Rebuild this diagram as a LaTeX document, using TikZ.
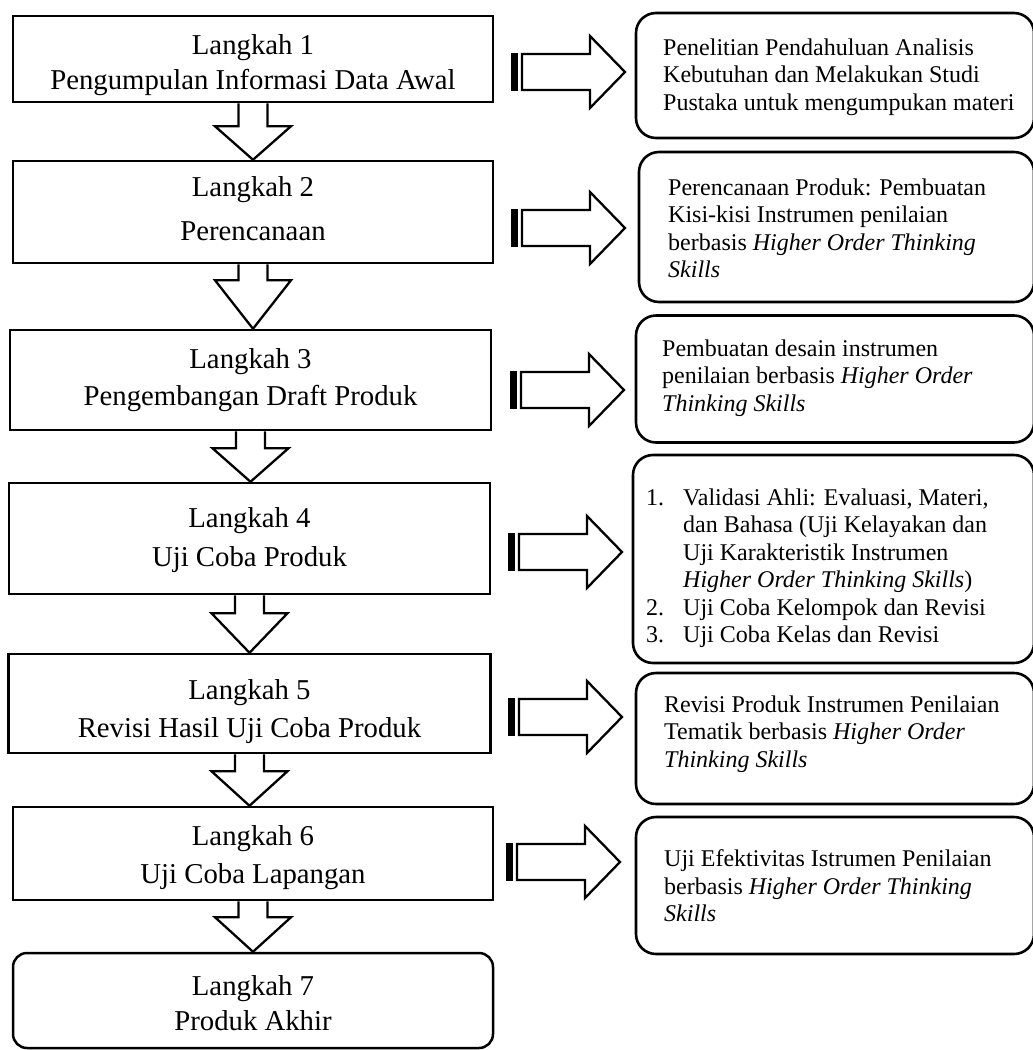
\documentclass[tikz,border=0pt]{standalone}
\usepackage{fontspec}
\setmainfont{Liberation Serif}
\usetikzlibrary{calc}
\tikzset{
  leftbox/.style={draw, line width=2.5pt, minimum width=480pt, inner sep=0pt},
  ltext/.style={font=\fontsize{28.75pt}{35pt}\selectfont, align=center, inner sep=0pt, anchor=north},
  rbox/.style={draw, line width=2.6pt, rounded corners=20pt, inner sep=0pt, minimum width=398pt},
  rtext/.style={font=\fontsize{24pt}{27.5pt}\selectfont, align=left, inner sep=0pt, anchor=north west},
  darrow/.style={draw, line width=2.3pt, fill=white, line join=miter},
  rarrow/.style={draw, line width=2.3pt, fill=white, line join=miter},
}
\newcommand\mystripedarrow[1]{%
  \fill ($(#1)+(0,-19)$) rectangle ($(#1)+(6.5,19)$);
  \draw[rarrow] ($(#1)+(11,-18)$) -- ($(#1)+(79,-18)$) -- ($(#1)+(79,-36)$) -- ($(#1)+(114,0)$) -- ($(#1)+(79,36)$) -- ($(#1)+(79,18)$) -- ($(#1)+(11,18)$) -- cycle;
}
\newcommand\mydownarrow[3]{% from node, to node, shaft length
  \draw[darrow] ($(#1.south)+(-14.5,0)$) -- ++(0,#3) -- ++(-23.5,0) -- (#1.south |- #2.north) -- ($(#1.south)+(38,#3)$) -- ++(-23.5,0) -- ($(#1.south)+(14.5,0)$);
}
\begin{document}
\begin{tikzpicture}[x=1pt,y=-1pt]
\fill[white] (0,0) rectangle (1033,1050);
\useasboundingbox (0,0) rectangle (1033,1050);

% left column boxes
\node[leftbox, minimum height=86pt] (b1) at (253,59) {};
\node[leftbox, minimum height=102pt] (b2) at (253,212) {};
\node[leftbox, minimum height=100pt, minimum width=481pt] (b3) at (250.5,380) {};
\node[leftbox, minimum height=111pt, minimum width=481pt] (b4) at (249.5,538.5) {};
\node[leftbox, minimum height=99pt, minimum width=482pt] (b5) at (249.5,703.5) {};
\node[leftbox, minimum height=93pt] (b6) at (253,853.5) {};
\node[leftbox, minimum height=95pt, rounded corners=14pt] (b7) at (253,1000.5) {};

% left texts
\node[ltext] (l1) at (253,34.7) {Langkah 1\\Pengumpulan Informasi Data Awal};
\node[ltext] (l2) at (253,176.4) {Langkah 2\\[9pt]Perencanaan};
\node[ltext] (l3) at (250.5,348.4) {Langkah 3\\[2pt]Pengembangan Draft Produk};
\node[ltext] (l4) at (249.5,507.4) {Langkah 4\\[4pt]Uji Coba Produk};
\node[ltext] (l5) at (249.5,679.4) {Langkah 5\\[3pt]Revisi Hasil Uji Coba Produk};
\node[ltext] (l6) at (253,825.4) {Langkah 6\\[3pt]Uji Coba Lapangan};
\node[ltext] (l7) at (253,975.4) {Langkah 7\\Produk Akhir};

% down block arrows
\mydownarrow{b1}{b2}{23}
\mydownarrow{b2}{b3}{16}
\mydownarrow{b3}{b4}{17}
\mydownarrow{b4}{b5}{18}
\mydownarrow{b5}{b6}{17}
\mydownarrow{b6}{b7}{16}

% right boxes
\node[rbox, minimum height=125pt] (r1) at (835,75.5) {};
\node[rbox, minimum height=150pt, minimum width=395pt] (r2) at (836.5,227) {};
\node[rbox, minimum height=127pt] (r3) at (835,379) {};
\node[rbox, minimum height=208pt, minimum width=401pt] (r4) at (833.5,559) {};
\node[rbox, minimum height=131pt] (r5) at (835,738.5) {};
\node[rbox, minimum height=137pt] (r6) at (835,885.5) {};

% right texts
\node[rtext] (t1) at (663,38.6) {Penelitian Pendahuluan Analisis\\Kebutuhan dan Melakukan Studi\\Pustaka untuk mengumpukan materi};
\node[rtext] (t2) at (668,178.6) {Perencanaan Produk: Pembuatan\\Kisi-kisi Instrumen penilaian\\berbasis \textit{Higher Order Thinking}\\\textit{Skills}};
\node[rtext] (t3) at (662,339.6) {Pembuatan desain instrumen\\penilaian berbasis \textit{Higher Order}\\\textit{Thinking Skills}};
\node[rtext] (t4) at (646,488.6) {\makebox[37pt][l]{1.}Validasi Ahli: Evaluasi, Materi,\\\hspace*{37pt}dan Bahasa (Uji Kelayakan dan\\\hspace*{37pt}Uji Karakteristik Instrumen\\\hspace*{37pt}\textit{Higher Order Thinking Skills})\\\makebox[37pt][l]{2.}Uji Coba Kelompok dan Revisi\\\makebox[37pt][l]{3.}Uji Coba Kelas dan Revisi};
\node[rtext] (t5) at (664,695.6) {Revisi Produk Instrumen Penilaian\\Tematik berbasis \textit{Higher Order}\\\textit{Thinking Skills}};
\node[rtext] (t6) at (664,849.6) {Uji Efektivitas Istrumen Penilaian\\berbasis \textit{Higher Order Thinking}\\\textit{Skills}};

% striped right arrows
\coordinate (a1) at (511,72);
\coordinate (a2) at (511,228);
\coordinate (a3) at (510,390);
\coordinate (a4) at (508,552);
\coordinate (a5) at (508,717);
\coordinate (a6) at (506,862);
\mystripedarrow{a1}
\mystripedarrow{a2}
\mystripedarrow{a3}
\mystripedarrow{a4}
\mystripedarrow{a5}
\mystripedarrow{a6}
\end{tikzpicture}
\end{document}
